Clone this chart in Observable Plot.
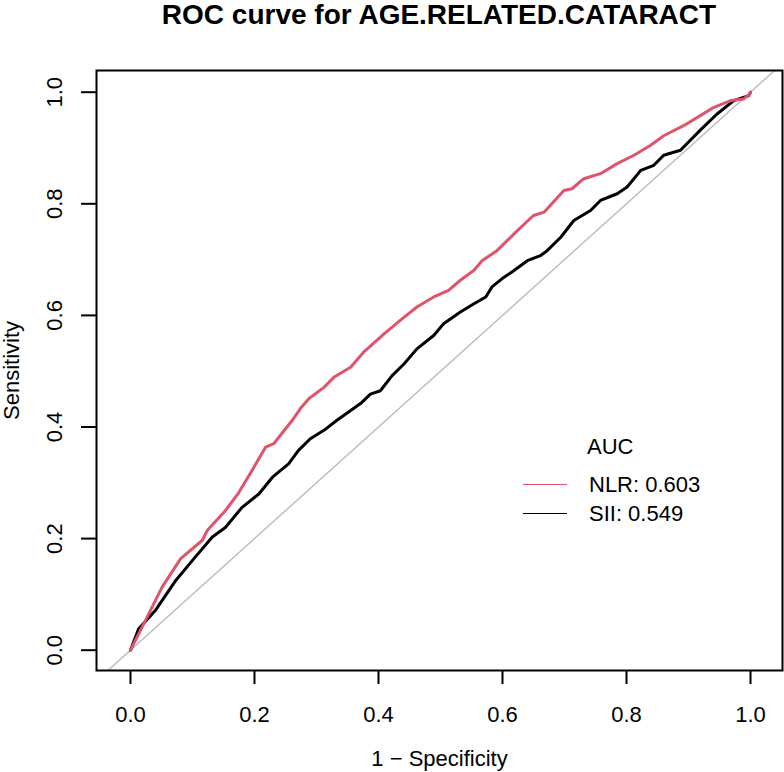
<!DOCTYPE html>
<html><head><meta charset="utf-8">
<script src="https://cdn.jsdelivr.net/npm/d3@7"></script>
<script src="https://cdn.jsdelivr.net/npm/@observablehq/plot@0.6"></script>
<style>
body{margin:0;background:#fff;font-family:"Liberation Sans",Arial,Helvetica,sans-serif;}
#wrap{position:relative;width:784px;height:772px;overflow:hidden;}
#title{position:absolute;left:0;top:0.5px;width:784px;padding-left:94px;box-sizing:border-box;text-align:center;font-weight:bold;font-size:28px;line-height:28px;white-space:nowrap;}
#chart{position:absolute;left:0;top:40px;}
.legtxt{position:absolute;font-size:22px;line-height:22px;white-space:nowrap;}
.legline{position:absolute;height:0;}
</style></head><body>
<div id="wrap"><div id="title"></div><div id="chart"></div><div id="legend"></div></div>
<script>
const title = "ROC curve for AGE.RELATED.CATARACT";
const xLabel = "1 \u2212 Specificity";
const yLabel = "Sensitivity";
const xTicks = [0, 0.2, 0.4, 0.6, 0.8, 1.0];
const yTicks = [0, 0.2, 0.4, 0.6, 0.8, 1.0];
const legendTitle = "AUC";
const seriesNames = ["NLR", "SII"];
const seriesAUC = ["0.603", "0.549"];
const seriesColors = ["#DF536B", "#000000"];

// NLR ROC curve (1 - specificity, sensitivity)
const nlrFpr = [0, 0.024, 0.051, 0.081, 0.116, 0.124, 0.153, 0.175, 0.196, 0.218, 0.231, 0.261, 0.274, 0.288, 0.312, 0.328, 0.355, 0.376, 0.409, 0.435, 0.462, 0.489, 0.513, 0.532, 0.554, 0.567, 0.591, 0.624, 0.650, 0.667, 0.699, 0.712, 0.731, 0.758, 0.785, 0.812, 0.839, 0.860, 0.892, 0.919, 0.941, 0.968, 0.989, 0.997, 1];
const nlrTpr = [0, 0.053, 0.113, 0.164, 0.197, 0.215, 0.250, 0.283, 0.322, 0.364, 0.370, 0.412, 0.433, 0.451, 0.471, 0.489, 0.507, 0.534, 0.567, 0.591, 0.615, 0.633, 0.645, 0.663, 0.681, 0.698, 0.716, 0.752, 0.779, 0.785, 0.824, 0.827, 0.845, 0.854, 0.872, 0.887, 0.905, 0.922, 0.940, 0.958, 0.973, 0.985, 0.988, 0.995, 1];
// SII ROC curve
const siiFpr = [0, 0.013, 0.040, 0.073, 0.100, 0.132, 0.153, 0.180, 0.207, 0.229, 0.255, 0.271, 0.290, 0.312, 0.333, 0.371, 0.387, 0.403, 0.422, 0.441, 0.462, 0.489, 0.505, 0.532, 0.554, 0.573, 0.583, 0.602, 0.618, 0.640, 0.661, 0.672, 0.694, 0.715, 0.742, 0.758, 0.785, 0.801, 0.823, 0.844, 0.860, 0.887, 0.919, 0.946, 0.973, 0.997, 1];
const siiTpr = [0, 0.038, 0.071, 0.125, 0.161, 0.203, 0.220, 0.256, 0.280, 0.310, 0.334, 0.358, 0.379, 0.394, 0.412, 0.442, 0.459, 0.465, 0.492, 0.513, 0.540, 0.564, 0.585, 0.606, 0.621, 0.633, 0.651, 0.668, 0.680, 0.698, 0.707, 0.716, 0.740, 0.770, 0.788, 0.806, 0.818, 0.830, 0.860, 0.869, 0.887, 0.896, 0.932, 0.961, 0.985, 0.994, 1];

const xDomain = [-0.0548, 1.0516];
const yDomain = [-0.0364, 1.0389];

const nlr = nlrFpr.map((x, i) => ({x, y: nlrTpr[i]}));
const sii = siiFpr.map((x, i) => ({x, y: siiTpr[i]}));
const diag = [Math.min(xDomain[0], yDomain[0]) - 0.05, Math.max(xDomain[1], yDomain[1]) + 0.05];
const fmt = d3.format(".1f");

document.getElementById("title").textContent = title;

const chart = Plot.plot({
  width: 784,
  height: 732,
  marginLeft: 96,
  marginRight: 2,
  marginTop: 30,
  marginBottom: 102,
  style: {fontFamily: "'Liberation Sans', Arial, Helvetica, sans-serif", fontSize: "22px", color: "black", background: "white"},
  x: {domain: xDomain},
  y: {domain: yDomain},
  marks: [
    Plot.line(diag, {x: d => d, y: d => d, stroke: "#BEBEBE", strokeWidth: 1.5, clip: true}),
    Plot.line(sii, {x: "x", y: "y", stroke: seriesColors[1], strokeWidth: 3, strokeLinejoin: "round"}),
    Plot.line(nlr, {x: "x", y: "y", stroke: seriesColors[0], strokeWidth: 3, strokeLinejoin: "round"}),
    Plot.frame({stroke: "black", strokeWidth: 2}),
    Plot.axisX({ticks: xTicks, tickFormat: fmt, tickSize: 14, tickPadding: 22, strokeWidth: 2, fontSize: 22, label: null}),
    Plot.axisY({ticks: yTicks, tickFormat: () => "", tickSize: 15, strokeWidth: 2, label: null}),
    Plot.text(yTicks, {y: d => d, text: d => fmt(d), frameAnchor: "left", dx: -42, rotate: -90, textAnchor: "middle", lineAnchor: "middle", fontSize: 22}),
    Plot.text([xLabel], {text: d => d, frameAnchor: "bottom", dy: 80, lineAnchor: "top", fontSize: 22}),
    Plot.text([yLabel], {text: d => d, frameAnchor: "left", dx: -85, rotate: -90, textAnchor: "middle", lineAnchor: "middle", fontSize: 22})
  ]
});
document.getElementById("chart").appendChild(chart);

// legend
const leg = document.getElementById("legend");
const t = document.createElement("div");
t.className = "legtxt"; t.textContent = legendTitle;
t.style.left = "587px"; t.style.top = "436px";
leg.appendChild(t);
seriesNames.forEach((n, i) => {
  const top = 474 + i * 29;
  const ln = document.createElement("div");
  ln.className = "legline";
  ln.style.left = "523px"; ln.style.width = "44px"; ln.style.top = (top + 10) + "px";
  ln.style.borderTop = "1.5px solid " + seriesColors[i];
  leg.appendChild(ln);
  const tx = document.createElement("div");
  tx.className = "legtxt"; tx.textContent = n + ": " + seriesAUC[i];
  tx.style.left = "589px"; tx.style.top = top + "px";
  leg.appendChild(tx);
});
</script>
</body></html>
